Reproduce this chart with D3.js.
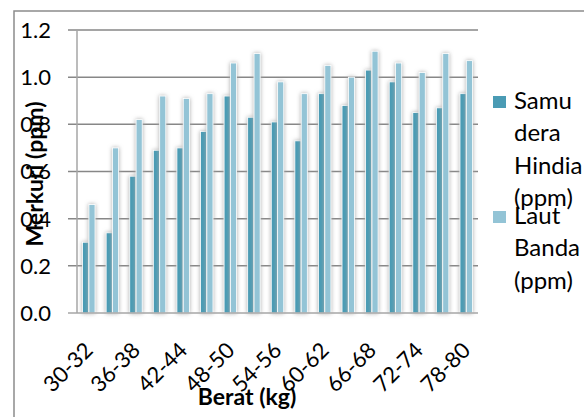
<!DOCTYPE html>
<head>
  <meta charset="utf-8">
  <script src="https://d3js.org/d3.v7.min.js"></script>
  <style>
    body { margin: 0; background: #fff; }
    svg { font-family: Lato, sans-serif; }
    .grid-line { stroke: #878787; stroke-width: 1.5px; }
    .axis-line { stroke: #a6a6a6; stroke-width: 1.5px; }
    .tick-label { font-size: 22px; fill: #000; }
    .axis-title { font-size: 23px; font-weight: bold; fill: #000; }
    .leyenda { font-size: 24px; fill: #000; }
  </style>
</head>

<body>
  <script>
    // datos
    var categorias = ["30-32","33-35","36-38","39-41","42-44","45-47","48-50","51-53","54-56",
                      "57-59","60-62","63-65","66-68","69-71","72-74","75-77","78-80"];
    var samuderaHindia = [0.30,0.34,0.58,0.69,0.70,0.77,0.92,0.83,0.81,0.73,0.93,0.88,1.03,0.98,0.85,0.87,0.93];
    var lautBanda = [0.46,0.70,0.82,0.92,0.91,0.93,1.06,1.10,0.98,0.93,1.05,1.00,1.11,1.06,1.02,1.10,1.07];
    var series = ["Samudera Hindia (ppm)", "Laut Banda (ppm)"];
    var yTicks = [0, 0.2, 0.4, 0.6, 0.8, 1.0, 1.2];
    var xTickLabels = ["30-32","36-38","42-44","48-50","54-56","60-62","66-68","72-74","78-80"];

    var colores = ["#4a9bb4", "#93c4d6"];

    var width = 584, height = 417;
    var plot = {left: 77, right: 478, top: 30, bottom: 313};

    var svg = d3.select("body").append("svg")
      .attr("width", width)
      .attr("height", height);

    // sombra de las barras
    var defs = svg.append("defs");
    var f = defs.append("filter").attr("id", "sombra")
      .attr("x", "-80%").attr("y", "-10%").attr("width", "260%").attr("height", "120%");
    f.append("feGaussianBlur").attr("in", "SourceAlpha").attr("stdDeviation", 2).attr("result", "b");
    f.append("feFlood").attr("flood-color", "#a9a9a9");
    f.append("feComposite").attr("in2", "b").attr("operator", "in").attr("result", "s");
    var m = f.append("feMerge");
    m.append("feMergeNode").attr("in", "s");
    m.append("feMergeNode").attr("in", "SourceGraphic");

    // borde del grafico
    svg.append("path")
      .attr("d", "M14," + height + "V11H" + width)
      .attr("fill", "none")
      .attr("stroke", "#8c8c8c")
      .attr("stroke-width", 1.5);

    var x = d3.scaleBand()
      .domain(categorias)
      .range([plot.left, plot.right])
      .paddingInner(0.45)
      .paddingOuter(0.225);

    var x1 = d3.scaleBand()
      .domain(series)
      .range([0, x.bandwidth()])
      .padding(0.04);

    var y = d3.scaleLinear()
      .domain([0, 1.2])
      .range([plot.bottom, plot.top]);

    // lineas de cuadricula
    svg.append("g").selectAll("line")
      .data(yTicks.filter(function(d) { return d > 0; }))
      .enter().append("line")
      .attr("class", "grid-line")
      .attr("x1", plot.left - 9)
      .attr("x2", plot.right)
      .attr("y1", function(d) { return y(d); })
      .attr("y2", function(d) { return y(d); });

    var filas = categorias.map(function(c, i) {
      return {cat: c, valores: [samuderaHindia[i], lautBanda[i]]};
    });

    var grupos = svg.append("g").selectAll("g")
      .data(filas)
      .enter().append("g")
      .attr("transform", function(d) { return "translate(" + x(d.cat) + ",0)"; });

    grupos.selectAll("rect")
      .data(function(d) { return d.valores.map(function(v, j) { return {s: series[j], v: v, j: j}; }); })
      .enter().append("rect")
      .attr("x", function(d) { return x1(d.s); })
      .attr("width", x1.bandwidth())
      .attr("y", function(d) { return y(d.v); })
      .attr("height", function(d) { return y(0) - y(d.v); })
      .attr("fill", function(d) { return colores[d.j]; })
      .attr("stroke", "#fff")
      .attr("stroke-width", 0.8)
      .attr("filter", "url(#sombra)");

    // ejes
    svg.append("line").attr("class", "axis-line")
      .attr("x1", plot.left).attr("x2", plot.left)
      .attr("y1", plot.top).attr("y2", plot.bottom);
    svg.append("line").attr("class", "axis-line")
      .attr("x1", plot.left - 9).attr("x2", plot.right)
      .attr("y1", plot.bottom).attr("y2", plot.bottom);

    svg.append("g").selectAll("text")
      .data(yTicks)
      .enter().append("text")
      .attr("class", "tick-label")
      .attr("x", 51)
      .attr("y", function(d) { return y(d); })
      .attr("dy", "0.36em")
      .attr("text-anchor", "end")
      .text(function(d) { return d3.format(".1f")(d); });

    svg.append("g").selectAll("text")
      .data(xTickLabels)
      .enter().append("text")
      .attr("class", "tick-label")
      .attr("text-anchor", "end")
      .attr("dy", "0.36em")
      .attr("transform", function(d) {
        return "translate(" + (x(d) + x.bandwidth() / 2) + ",346) rotate(-45)";
      })
      .text(function(d) { return d; });

    svg.append("text")
      .attr("class", "axis-title")
      .attr("text-anchor", "middle")
      .attr("transform", "translate(43,174) rotate(-90)")
      .text("Merkuri (ppm)");

    svg.append("text")
      .attr("class", "axis-title")
      .attr("text-anchor", "middle")
      .attr("x", 247)
      .attr("y", 405)
      .text("Berat (kg)");

    // leyenda
    var leyendaLineas = [["Samu", "dera", "Hindia", "(ppm)"], ["Laut", "Banda", "(ppm)"]];
    var leyendaBase = [109, 224];
    var leyenda = svg.append("g").attr("class", "leyenda");

    leyendaLineas.forEach(function(lineas, i) {
      leyenda.append("rect")
        .attr("x", 493).attr("y", leyendaBase[i] - 13)
        .attr("width", 13).attr("height", 12)
        .attr("fill", colores[i]);
      var t = leyenda.append("text").attr("x", 514).attr("y", leyendaBase[i]);
      t.selectAll("tspan")
        .data(lineas)
        .enter().append("tspan")
        .attr("x", 514)
        .attr("dy", function(d, k) { return k === 0 ? 0 : 32.3; })
        .text(function(d) { return d; });
    });
  </script>
</body>
